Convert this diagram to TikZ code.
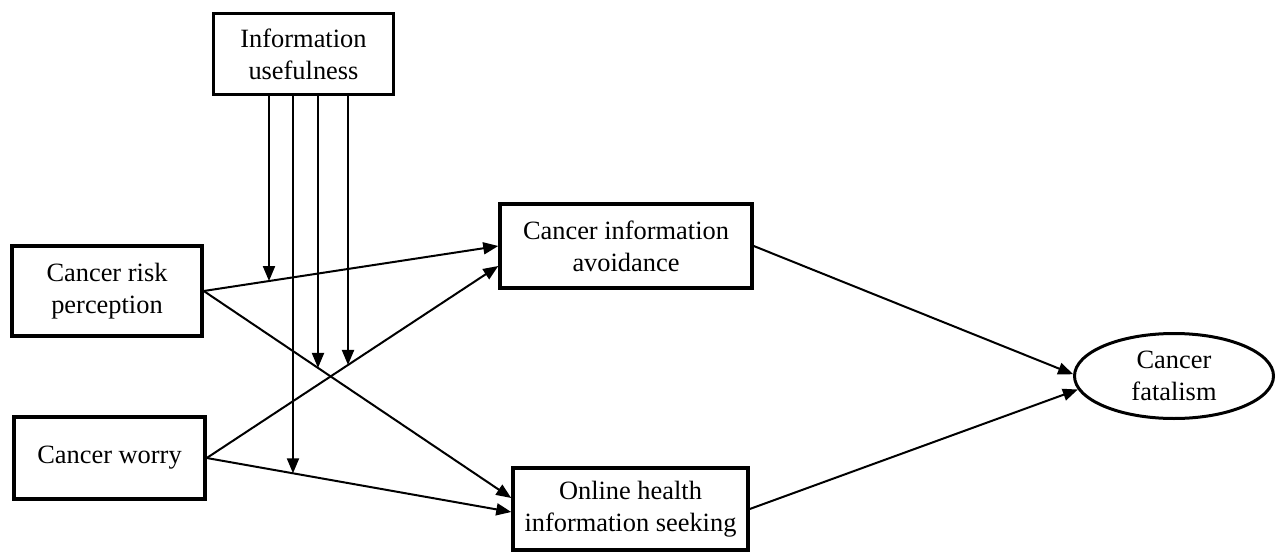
\documentclass[tikz,border=0pt]{standalone}
\usepackage{fontspec}
\setmainfont{Liberation Serif}
\usetikzlibrary{arrows.meta, shapes.geometric, intersections}

\begin{document}
\begin{tikzpicture}[x=1pt, y=-1pt,
    font=\fontsize{26.4}{32}\selectfont,
    box/.style={draw, rectangle, line width=3.5pt, align=center, inner sep=0pt},
    arr/.style={-{Triangle[length=15pt, width=12pt]}, line width=2pt}]
    \useasboundingbox (0,0) rectangle (1277,554);

    % Moderator
    \node[box, minimum width=180pt, minimum height=81pt] (info) at (303.5,54) {Information\\usefulness};

    % Predictors
    \node[box, minimum width=190pt, minimum height=90pt] (risk) at (107,291) {Cancer risk\\perception};
    \node[box, minimum width=191pt, minimum height=82pt] (worry) at (109.5,458) {Cancer worry};

    % Mediators
    \node[box, minimum width=252pt, minimum height=84pt] (avoid) at (626,246) {Cancer information\\avoidance};
    \node[box, minimum width=235pt, minimum height=82pt] (seek) at (630.5,509) {Online health\\information seeking};

    % Outcome
    \node[draw, ellipse, line width=3pt, minimum width=199pt, minimum height=85pt, inner sep=0pt, align=center] (fatal) at (1174,376) {Cancer\\fatalism};

    % Arrows
    \draw[arr, name path=ra] (risk.east) -- (avoid.west);
    \draw[arr, name path=rs] (risk.east) -- ([yshift=11pt]seek.west);
    \draw[arr, name path=wa] (worry.east) -- ([yshift=-20pt]avoid.west);
    \draw[arr, name path=ws] (worry.east) -- ([yshift=-3pt]seek.west);
    \draw[arr] (avoid.east) -- (fatal.179);
    \draw[arr] (seek.east) -- (fatal.188);

    % Moderation arrows
    \foreach \x/\p in {269/ra, 293/ws, 318/rs, 348/wa} {
        \coordinate (u) at (\x,0);
        \path[name path=vert] (\x,0) -- (\x,554);
        \draw[arr, name intersections={of={vert} and {\p}}] (info.south -| u) -- (intersection-1);
    }
\end{tikzpicture}
\end{document}
